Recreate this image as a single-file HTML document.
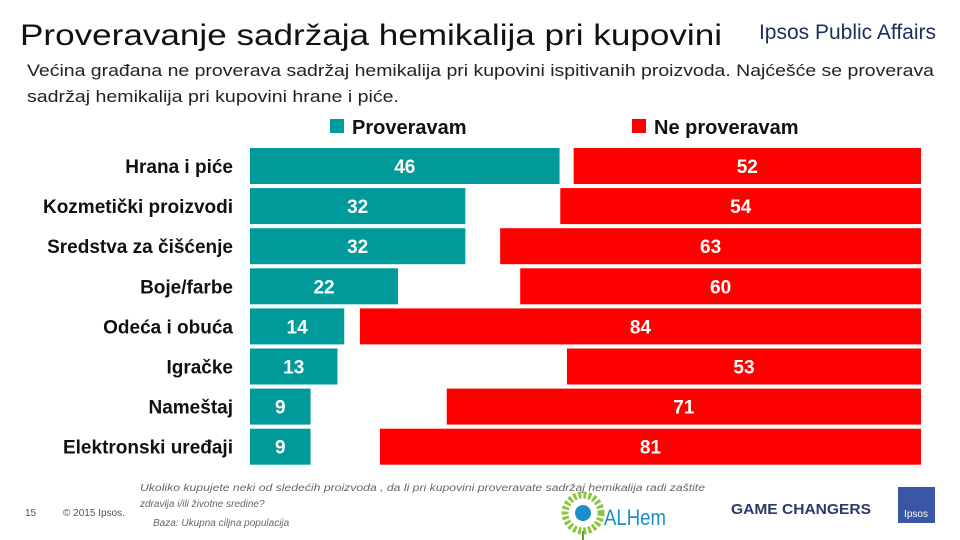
<!DOCTYPE html>
<html><head><meta charset="utf-8">
<style>
body{margin:0;width:960px;height:540px;background:#fff;overflow:hidden;font-family:"Liberation Sans",sans-serif;}
svg{display:block}
</style></head>
<body>
<svg id="chart" width="960" height="540" xmlns="http://www.w3.org/2000/svg">
<text x="20" y="45" font-size="30" fill="#111" textLength="702" lengthAdjust="spacingAndGlyphs">Proveravanje sadržaja hemikalija pri kupovini</text>
<text x="936" y="39" font-size="21" fill="#1f2d5a" text-anchor="end">Ipsos Public Affairs</text>
<text x="27" y="76" font-size="17" fill="#222" textLength="907" lengthAdjust="spacingAndGlyphs">Većina građana ne proverava sadržaj hemikalija pri kupovini ispitivanih proizvoda. Najćešće se proverava</text>
<text x="27" y="102" font-size="17" fill="#222" textLength="372" lengthAdjust="spacingAndGlyphs">sadržaj hemikalija pri kupovini hrane i piće.</text>
<g>
<rect x="330" y="119" width="14" height="14" fill="#009a9a"/>
<text x="352" y="134" font-size="20" font-weight="bold" fill="#111">Proveravam</text>
<rect x="632" y="119" width="14" height="14" fill="#ff0000"/>
<text x="654" y="134" font-size="20" font-weight="bold" fill="#111">Ne proveravam</text>
</g>
<g id="bars"></g>
<g>
<text x="25" y="516" font-size="10" fill="#555">15</text>
<text x="63" y="516" font-size="10" fill="#555">© 2015 Ipsos.</text>
<text x="140" y="491" font-size="10" font-style="italic" fill="#666" textLength="565" lengthAdjust="spacingAndGlyphs">Ukoliko kupujete neki od sledećih proizvoda , da li pri kupovini proveravate sadržaj hemikalija radi zaštite</text>
<text x="140" y="507" font-size="10" font-style="italic" fill="#666">zdravlja i/ili životne sredine?</text>
<text x="153" y="526" font-size="10" font-style="italic" fill="#666">Baza: Ukupna ciljna populacija</text>
<g>
<circle cx="583" cy="513" r="18" fill="none" stroke="#8cc63f" stroke-width="7" stroke-dasharray="3 2"/>
<circle cx="583" cy="513" r="8" fill="#1b8fc9"/>
<line x1="583" y1="531" x2="583" y2="540" stroke="#5aa02c" stroke-width="2"/>
<text x="604" y="525" font-size="22" fill="#1b8fc9" textLength="62" lengthAdjust="spacingAndGlyphs">ALHem</text>
</g>
<text x="731" y="514" font-size="15" font-weight="bold" fill="#2b3a6b" textLength="140" lengthAdjust="spacingAndGlyphs">GAME CHANGERS</text>
<rect x="898" y="487" width="37" height="36" fill="#3a57a5"/>
<text x="916" y="517" font-size="10" fill="#fff" text-anchor="middle">Ipsos</text>
</g>
</svg>
<script>
const categories=["Hrana i piće","Kozmetički proizvodi","Sredstva za čišćenje","Boje/farbe","Odeća i obuća","Igračke","Nameštaj","Elektronski uređaji"];
const proveravam=[46,32,32,22,14,13,9,9];
const neProveravam=[52,54,63,60,84,53,71,81];
const NS="http://www.w3.org/2000/svg";
const g=document.getElementById('bars');
const leftX=250, rightX=921;
const xL=v=>v*6.73, xR=v=>v*6.68;
const yRow=i=>148+i*40.1;
const bh=36;
function el(t,a){const e=document.createElementNS(NS,t);for(const k in a)e.setAttribute(k,a[k]);g.appendChild(e);return e;}
categories.forEach((c,i)=>{
 const y=yRow(i);
 const lab=el('text',{x:233,y:y+bh/2+7,'font-size':19,'font-weight':'bold','text-anchor':'end',fill:'#111'});
 lab.textContent=c;
 
 
 const w1=xL(proveravam[i]);
 const b1=el('rect',{x:leftX,y:y,width:w1,height:bh,fill:'#009a9a'});
 
 
 const t1=el('text',{x:leftX+w1/2,y:y+bh/2+7,'font-size':19,'font-weight':'bold','text-anchor':'middle',fill:'#fff'});
 t1.textContent=proveravam[i];
 
 
 const w2=xR(neProveravam[i]);
 const b2=el('rect',{x:rightX-w2,y:y,width:w2,height:bh,fill:'#ff0000'});
 
 
 const t2=el('text',{x:rightX-w2/2,y:y+bh/2+7,'font-size':19,'font-weight':'bold','text-anchor':'middle',fill:'#fff'});
 t2.textContent=neProveravam[i];
 
 
});
</script>
</body></html>
